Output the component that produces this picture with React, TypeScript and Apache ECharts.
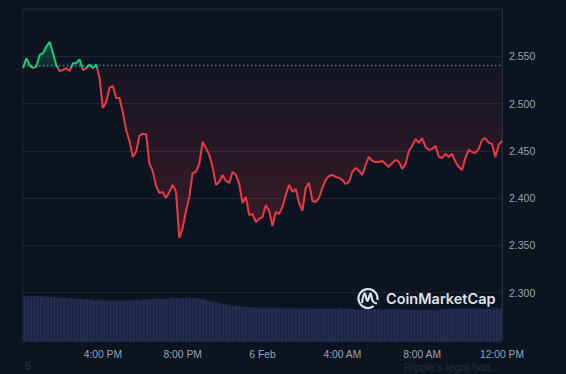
import React, { useEffect, useRef } from 'react';
import * as echarts from 'echarts';

// Opening price (dotted reference line)
const BASE_PRICE = 2.5376;

// Price every 10 minutes, 5 Feb 12:00 PM -> 6 Feb 12:00 PM
const PRICES = [
  2.5373, 2.5479, 2.5408, 2.5373, 2.539, 2.5514, 2.5532, 2.5601, 2.5654, 2.5532,
  2.5408, 2.5345, 2.5355, 2.5373, 2.5345, 2.5426, 2.5429, 2.5468, 2.5355, 2.5373,
  2.5415, 2.5373, 2.5415, 2.5271, 2.4953, 2.5017, 2.5165, 2.5186, 2.5059, 2.5059,
  2.4911, 2.4721, 2.4605, 2.4436, 2.4488, 2.4658, 2.4679, 2.4679, 2.4362, 2.4288,
  2.4129, 2.4055, 2.4066, 2.4002, 2.4066, 2.414, 2.4066, 2.3579, 2.3685, 2.3865,
  2.4013, 2.4266, 2.4277, 2.4362, 2.4594, 2.4531, 2.4457, 2.433, 2.414, 2.4171,
  2.4245, 2.4182, 2.4161, 2.4277, 2.4245, 2.415, 2.3949, 2.4013, 2.3822, 2.3833,
  2.3748, 2.378, 2.3801, 2.3928, 2.3865, 2.3706, 2.3854, 2.3833, 2.3907, 2.4034,
  2.414, 2.4066, 2.4097, 2.3949, 2.3865, 2.4108, 2.4161, 2.397, 2.396, 2.4002,
  2.4108, 2.4192, 2.4235, 2.4245, 2.4224, 2.4214, 2.4192, 2.415, 2.4171, 2.4277,
  2.4319, 2.4288, 2.4245, 2.4351, 2.4436, 2.4393, 2.4383, 2.4383, 2.4393, 2.4362,
  2.433, 2.4372, 2.4404, 2.4383, 2.4309, 2.4362, 2.4499, 2.4552, 2.4626, 2.4584,
  2.4636, 2.4541, 2.451, 2.452, 2.4552, 2.4436, 2.4425, 2.4467, 2.4436, 2.4467,
  2.4383, 2.433, 2.4298, 2.4425, 2.451, 2.4488, 2.4478, 2.452, 2.4615, 2.4636,
  2.4584, 2.4573, 2.4436, 2.4562, 2.4605,
];

// Volume (relative units), same 10-minute steps
const VOLUMES = [
  74, 74, 74, 74, 74, 74, 74, 73, 73, 73,
  72, 72, 72, 71, 71, 70, 70, 70, 69, 69,
  69, 68, 68, 68, 67, 67, 67, 67, 67, 67,
  67, 68, 68, 68, 68, 68, 69, 69, 69, 70,
  70, 70, 70, 70, 71, 71, 71, 71, 71, 71,
  71, 71, 71, 70, 70, 68, 66, 65, 64, 63,
  62, 61, 60, 59, 59, 58, 57, 56, 56, 56,
  56, 55, 55, 55, 55, 55, 55, 55, 55, 55,
  55, 55, 54, 54, 54, 54, 54, 54, 54, 54,
  54, 54, 54, 54, 54, 54, 54, 54, 54, 54,
  53, 53, 53, 53, 53, 53, 53, 53, 53, 53,
  53, 53, 53, 53, 53, 52, 52, 52, 52, 52,
  52, 52, 52, 52, 52, 52, 53, 53, 53, 54,
  54, 54, 54, 54, 54, 54, 54, 54, 54, 54,
  54, 54, 54, 54, 54,
];

const START_MINUTES = 12 * 60; // 12:00 PM
const STEP_MINUTES = 10;
const TICK_EVERY = 24; // every 4 hours
const TICK_LABELS: Record<string, string> = {
  '4:00 PM': '4:00 PM',
  '8:00 PM': '8:00 PM',
  '12:00 AM': '6 Feb',
  '4:00 AM': '4:00 AM',
  '8:00 AM': '8:00 AM',
  '12:00 PM': '12:00 PM',
};
const Y_MIN = 2.25;
const Y_MAX = 2.6;
const Y_STEP = 0.05;

const RED = '#ea3943';
const GREEN = '#16c784';
const BG = '#0d1421';
const GRID_LINE = '#222531';
const LABEL = '#9aa1b3';
const WM = '#dfe1e7';
const FONT = '"Liberation Sans", Arial, sans-serif';

function timeLabel(i: number): string {
  const m = START_MINUTES + i * STEP_MINUTES;
  const h24 = Math.floor(m / 60) % 24;
  const mm = m % 60;
  const h12 = h24 % 12 === 0 ? 12 : h24 % 12;
  return `${h12}:${String(mm).padStart(2, '0')} ${h24 < 12 ? 'AM' : 'PM'}`;
}

const CATEGORIES = PRICES.map((_, i) => timeLabel(i));

export default function App() {
  const ref = useRef<HTMLDivElement>(null);
  useEffect(() => {
    if (!ref.current) return;
    const chart = echarts.init(ref.current, null, { renderer: 'svg' });
    // stacked bands between price and opening price
    const redLow = PRICES.map((v) => Math.min(v, BASE_PRICE));
    const redBand = PRICES.map((v) => BASE_PRICE - Math.min(v, BASE_PRICE));
    const greenLow = PRICES.map(() => BASE_PRICE);
    const greenBand = PRICES.map((v) => Math.max(v, BASE_PRICE) - BASE_PRICE);
    const hidden = { symbol: 'none', silent: true, lineStyle: { width: 0, opacity: 0 }, xAxisIndex: 0, yAxisIndex: 0, type: 'line' };
    chart.setOption({
      animation: false,
      backgroundColor: BG,
      grid: [
        { left: 23, right: 64, top: 9, bottom: 34, show: true, borderColor: GRID_LINE, borderWidth: 1, backgroundColor: 'transparent' },
        { left: 23, right: 64, top: 280, bottom: 32 },
      ],
      xAxis: [
        {
          type: 'category',
          gridIndex: 0,
          data: CATEGORIES,
          boundaryGap: false,
          axisLine: { show: false },
          axisTick: { show: false },
          splitLine: { show: false },
          axisLabel: {
            interval: (i: number) => i > 0 && i % TICK_EVERY === 0,
            formatter: (v: string) => TICK_LABELS[v] ?? v,
            color: LABEL,
            fontSize: 10.3,
            fontFamily: FONT,
            margin: 9,
          },
        },
        { type: 'category', gridIndex: 1, data: CATEGORIES, show: false },
      ],
      yAxis: [
        {
          type: 'value',
          gridIndex: 0,
          position: 'right',
          min: Y_MIN,
          max: Y_MAX,
          interval: Y_STEP,
          axisLine: { show: true, lineStyle: { color: '#2a2e3a' } },
          axisTick: { show: false },
          splitLine: { show: true, lineStyle: { color: GRID_LINE, width: 1 } },
          axisLabel: {
            formatter: (v: number) =>
              Math.abs(v - Y_MIN) < 1e-6 || Math.abs(v - Y_MAX) < 1e-6 ? '' : v.toFixed(3),
            color: LABEL,
            fontSize: 10.5,
            fontFamily: FONT,
            margin: 7,
          },
        },
        { type: 'value', gridIndex: 1, min: 0, max: 100, show: false },
      ],
      visualMap: {
        type: 'piecewise',
        show: false,
        seriesIndex: 4,
        dimension: 1,
        pieces: [
          { gt: BASE_PRICE, lte: 10, color: GREEN },
          { gt: 0, lte: BASE_PRICE, color: RED },
        ],
      },
      series: [
        { ...hidden, name: 'redLow', stack: 'red', data: redLow, z: 1 },
        {
          ...hidden,
          name: 'redBand',
          stack: 'red',
          data: redBand,
          z: 1,
          areaStyle: {
            color: new echarts.graphic.LinearGradient(0, 0, 0, 1, [
              { offset: 0, color: 'rgba(234,57,67,0.05)' },
              { offset: 1, color: 'rgba(234,57,67,0.30)' },
            ]),
          },
        },
        { ...hidden, name: 'greenLow', stack: 'green', data: greenLow, z: 1 },
        {
          ...hidden,
          name: 'greenBand',
          stack: 'green',
          data: greenBand,
          z: 1,
          areaStyle: {
            color: new echarts.graphic.LinearGradient(0, 0, 0, 1, [
              { offset: 0, color: 'rgba(22,199,132,0.40)' },
              { offset: 1, color: 'rgba(22,199,132,0.15)' },
            ]),
          },
        },
        {
          name: 'price',
          type: 'line',
          xAxisIndex: 0,
          yAxisIndex: 0,
          data: PRICES,
          symbol: 'none',
          lineStyle: { width: 2 },
          z: 3,
          markLine: {
            silent: true,
            symbol: ['none', 'none'],
            label: { show: false },
            lineStyle: { color: 'rgba(161,167,187,0.7)', type: [1.4, 2.6], width: 1.3 },
            data: [{ yAxis: BASE_PRICE }],
          },
        },
        {
          name: 'volume',
          type: 'bar',
          xAxisIndex: 1,
          yAxisIndex: 1,
          data: VOLUMES,
          barCategoryGap: '0%',
          itemStyle: { color: '#252d52', borderColor: '#21294a', borderWidth: 0.5 },
          silent: true,
          z: 2,
        },
      ],
      graphic: [
        {
          type: 'arc',
          z: 100,
          shape: { cx: 368, cy: 298.5, r: 9.5, startAngle: Math.PI * 0.3, endAngle: Math.PI * 2.05 },
          style: { stroke: WM, lineWidth: 2.2, fill: 'none' },
        },
        {
          type: 'polyline',
          z: 100,
          shape: {
            points: [[362, 303], [364.5, 293.5], [367.5, 301], [370.5, 293.5], [373, 301.5], [377, 303.5]],
            smooth: 0.4,
          },
          style: { stroke: WM, lineWidth: 2.2, fill: 'none' },
        },
        {
          type: 'text',
          z: 100,
          x: 386,
          y: 298.5,
          style: { text: 'CoinMarketCap', fill: WM, font: '600 14.5px Inter, sans-serif', verticalAlign: 'middle' },
        },
        {
          type: 'text',
          z: 100,
          x: 25,
          y: 366,
          style: { text: '5', fill: '#2d323d', font: '11px "Liberation Sans", Arial, sans-serif', verticalAlign: 'middle' },
        },
        {
          type: 'text',
          z: 100,
          x: 404,
          y: 366.5,
          style: { text: "Ripple's legal batt...", fill: '#262b35', font: '11px "Liberation Sans", Arial, sans-serif', verticalAlign: 'middle' },
        },
      ],
    });
    return () => chart.dispose();
  }, []);
  return (
    <div style={{ position: 'fixed', left: 0, top: 0, width: 566, height: 374, background: BG }}>
      <div ref={ref} style={{ width: 566, height: 374 }} />
    </div>
  );
}
